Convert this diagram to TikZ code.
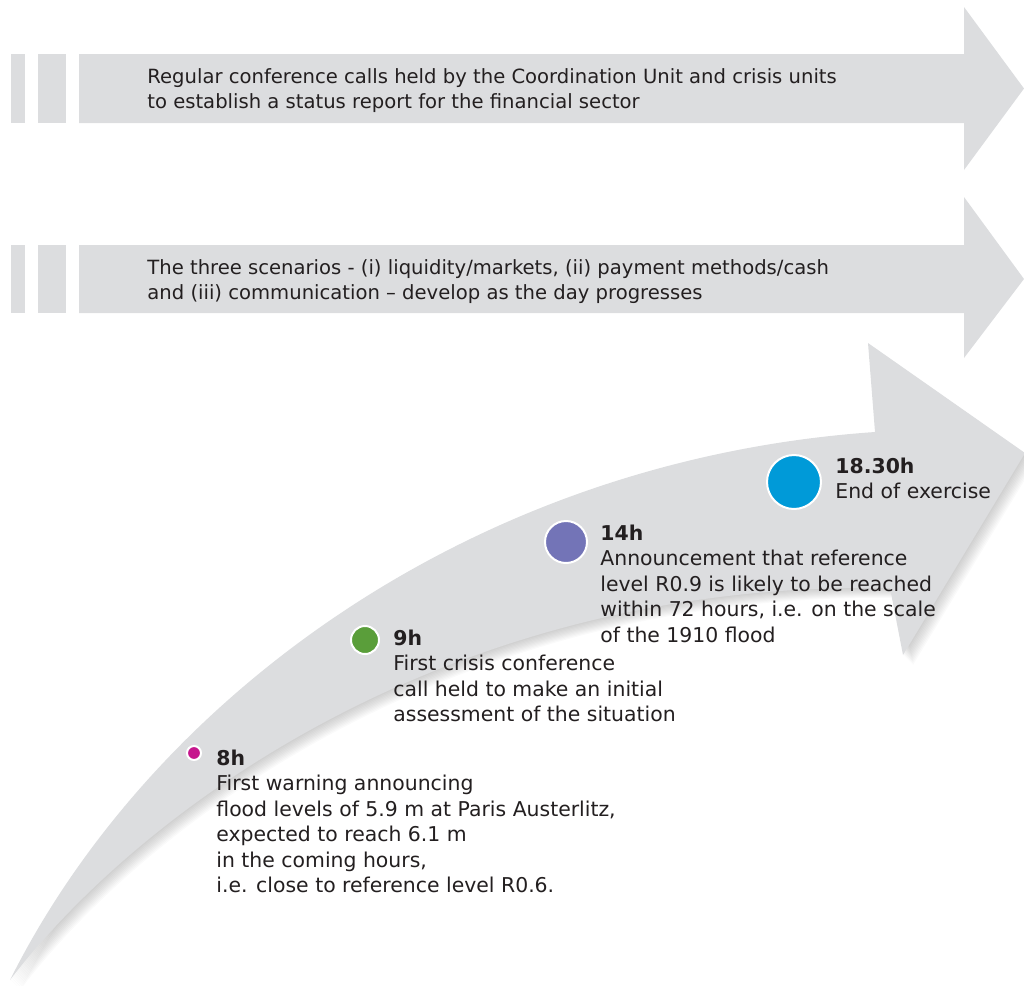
\documentclass[tikz,border=0pt]{standalone}
\usepackage{fontspec}
\setmainfont{DejaVu Sans}
\usepackage{tikz}
\usetikzlibrary{positioning}
\definecolor{bandgray}{HTML}{DCDDDF}
\definecolor{inkgray}{HTML}{231F20}
\definecolor{dotmagenta}{HTML}{C6168D}
\definecolor{dotgreen}{HTML}{5A9E3A}
\definecolor{dotpurple}{HTML}{7374B7}
\definecolor{dotblue}{HTML}{009AD8}
\tikzset{
 evt/.style={circle, fill=#1, draw=white, line width=1pt, inner sep=0pt},
 note/.style={anchor=base west, inner sep=0pt, text=inkgray,
   font=\fontsize{10.2}{12.75}\selectfont},
 banner/.style={anchor=base west, inner sep=0pt, text=inkgray,
   font=\fontsize{9.8}{12.5}\selectfont},
}
% lines stacked from the first baseline down
\newcommand{\lines}[1]{\begin{tabular}[t]{@{}l@{}}#1\end{tabular}}
\newcommand{\bandpath}{(10,980) .. controls (150,700) and (470,460) .. (875,432)
 -- (868,343) -- (1025,453) -- (903,655) -- (890,588)
 .. controls (450,580) and (140,810) .. (10,980) -- cycle}

\begin{document}
\begin{tikzpicture}[x=0.5pt, y=-0.5pt]
\useasboundingbox (0,0) rectangle (1024,986);
\clip (0,0) rectangle (1024,986);
% banners
\foreach \top/\bot/\htop/\hbot in {54/123/7/170, 245/313/197/358} {
 \fill[bandgray] (11,\top) rectangle (25,\bot);
 \fill[bandgray] (38,\top) rectangle (66,\bot);
 \fill[bandgray] (79,\top) -- (964,\top) -- (964,\htop) -- (1024,{(\top+\bot)/2}) -- (964,\hbot) -- (964,\bot) -- (79,\bot) -- cycle;
}
\node[banner] (calls) at (147,83) {\lines{Regular conference calls held by the Coordination Unit and crisis units\\to establish a status report for the financial sector}};
\node[banner] (scen) at (147,274) {\lines{The three scenarios - (i) liquidity/markets, (ii) payment methods/cash\\and (iii) communication – develop as the day progresses}};
% curved timeline arrow with soft shadow
\foreach \d in {1,...,10}
 \fill[black, opacity=0.02, shift={(\d,\d)}] \bandpath;
\fill[bandgray] \bandpath;
% events
\node[evt=dotmagenta, minimum size=7pt] (d8) at (194,753) {};
\node[evt=dotgreen, minimum size=14pt] (d9) at (365,640) {};
\node[evt=dotpurple, minimum size=21pt] (d14) at (566,542) {};
\node[evt=dotblue, minimum size=27pt] (d18) at (794,482) {};
\node[note] (t8) at (216,765) {\lines{\textbf{8h}\\First warning announcing\\flood levels of 5.9 m at Paris Austerlitz,\\expected to reach 6.1 m\\in the coming hours,\\i.e. close to reference level R0.6.}};
\node[note] (t9) at (393,645) {\lines{\textbf{9h}\\First crisis conference\\call held to make an initial\\assessment of the situation}};
\node[note] (t14) at (600,540) {\lines{\textbf{14h}\\Announcement that reference\\level R0.9 is likely to be reached\\within 72 hours, i.e. on the scale\\of the 1910 flood}};
\node[note] (t18) at (835,473) {\lines{\textbf{18.30h}\\End of exercise}};
\end{tikzpicture}
\end{document}
